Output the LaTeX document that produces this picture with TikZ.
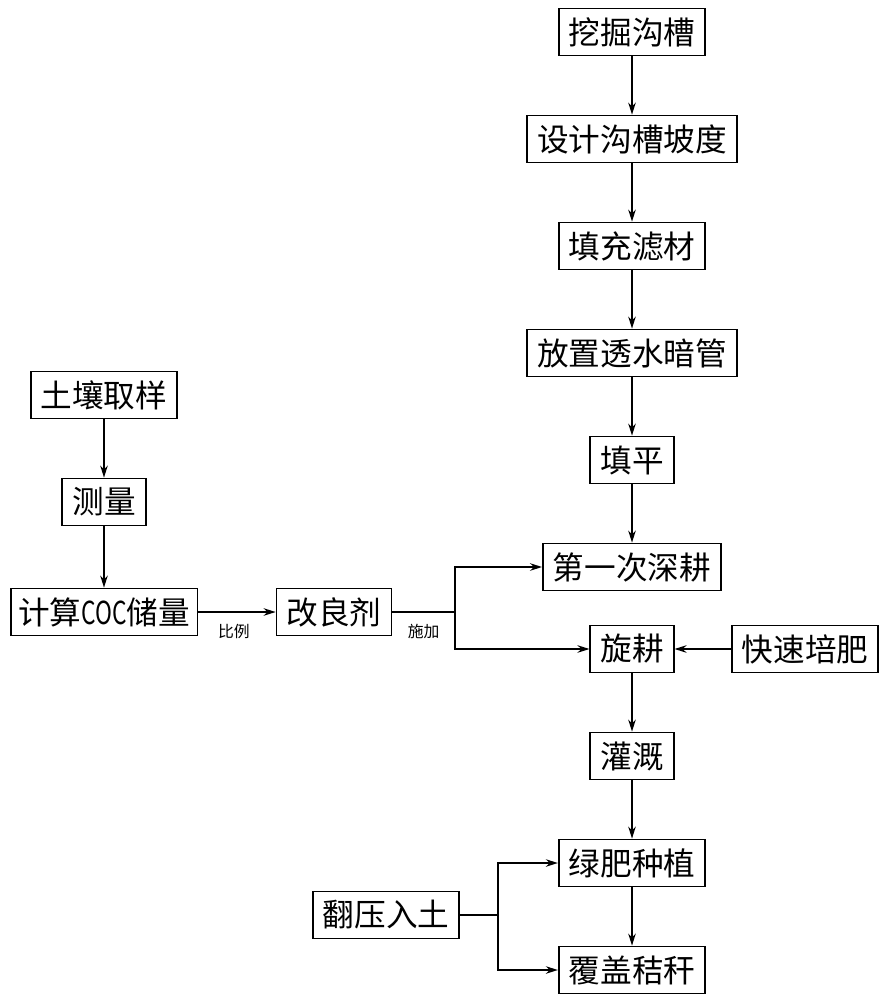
\documentclass[tikz,border=0pt]{standalone}
\usepackage{fontspec}
\usepackage{tikz}
\usetikzlibrary{arrows.meta}
\newfontfamily\cjk{Noto Sans CJK SC}
\tikzstyle{stepbox} = [rectangle, minimum height=0.94cm, inner xsep=0.2cm, text centered, draw=black, line width=1pt, font=\cjk\fontsize{18}{20}\selectfont]
\tikzstyle{tag} = [font=\cjk\fontsize{9}{10}\selectfont]
\tikzstyle{arrow} = [line width=1pt,-{Stealth[length=2.4mm,width=1.5mm]}]
\tikzstyle{line} = [line width=1pt]

\begin{document}
\begin{tikzpicture}[node distance=2.14cm]
\useasboundingbox (0,0) rectangle (17.68,-20);

% drainage column
\node (dig) [stepbox] at (12.64,-0.64) {挖掘沟槽};
\node (slope) [stepbox, below of=dig] {设计沟槽坡度};
\node (fill) [stepbox, below of=slope] {填充滤材};
\node (pipe) [stepbox, below of=fill] {放置透水暗管};
\node (level) [stepbox, below of=pipe] {填平};
\node (plow1) [stepbox, below of=level] {第一次深耕};
\node (rotary) [stepbox, below of=plow1, yshift=0.5cm] {旋耕};
\node (fert) [stepbox, right of=rotary, xshift=1.32cm] {快速培肥};
\node (irrig) [stepbox, below of=rotary] {灌溉};
\node (green) [stepbox, below of=irrig] {绿肥种植};
\node (cover) [stepbox, below of=green] {覆盖秸秆};
\node (press) [stepbox] at (7.72,-18.3) {翻压入土};

% soil column
\node (sample) [stepbox] at (2.08,-7.9) {土壤取样};
\node (measure) [stepbox, below of=sample] {测量};
\node (calc) [stepbox, below of=measure, yshift=-0.06cm, inner xsep=0.15cm] {计算\scalebox{0.72}[1]{COC}储量};
\node (agent) [stepbox, right of=calc, xshift=2.46cm] {改良剂};

\coordinate (split1) at (9.1,0 |- agent);
\coordinate (split2) at (9.96,0 |- press);

\draw [arrow] (dig) -- (slope);
\draw [arrow] (slope) -- (fill);
\draw [arrow] (fill) -- (pipe);
\draw [arrow] (pipe) -- (level);
\draw [arrow] (level) -- (plow1);
\draw [arrow] (rotary) -- (irrig);
\draw [arrow] (irrig) -- (green);
\draw [arrow] (green) -- (cover);
\draw [arrow] (fert) -- (rotary);

\draw [arrow] (sample) -- (measure);
\draw [arrow] (measure) -- (calc);
\draw [arrow] (calc) -- node[tag, anchor=north, yshift=-0.1cm, xshift=-0.06cm] {比例} (agent);
\draw [line] (agent) -- node[tag, anchor=north, yshift=-0.1cm] {施加} (split1);
\draw [arrow] (split1) |- (plow1);
\draw [arrow] (split1) |- (rotary);

\draw [line] (press) -- (split2);
\draw [arrow] (split2) |- (green);
\draw [arrow] (split2) |- (cover);

\end{tikzpicture}
\end{document}
